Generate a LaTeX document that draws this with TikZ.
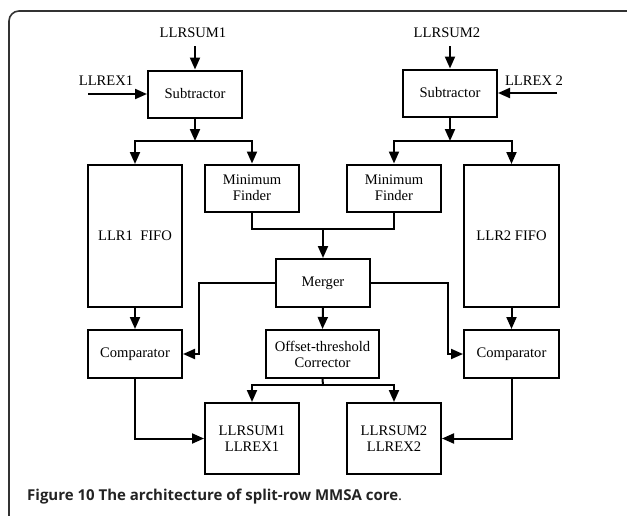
\documentclass[tikz,border=0pt]{standalone}
\usepackage{fontspec}
\setmainfont{Liberation Serif}
\newfontfamily\captionfont{Open Sans}
\usetikzlibrary{positioning,arrows.meta,calc}
\definecolor{framegray}{RGB}{50, 50, 50}
\definecolor{captiongray}{RGB}{35, 35, 35}

\begin{document}
\begin{tikzpicture}[
    x=1pt, y=-1pt,
    font=\fontsize{14.6}{16}\selectfont,
    % Block styles
    block/.style={
        draw=black,
        line width=2pt,
        align=center,
        inner sep=2pt,
        minimum width=94pt,
        minimum height=47pt
    },
    tallblock/.style={
        block,
        minimum height=142pt
    },
    outblock/.style={
        block,
        minimum height=71pt
    },
    signal/.style={
        align=center,
        inner sep=1pt
    },
    wire/.style={
        draw=black,
        line width=2pt
    },
    arrow/.style={
        wire,
        -{Triangle[length=12pt,width=10pt]}
    }
]
    \useasboundingbox (0,0) rectangle (627,515);

    % =========================================================================
    % 1. FRAME AND CAPTION
    % =========================================================================
    \draw[draw=framegray, line width=1.6pt, rounded corners=10pt]
        (9,516) -- (9,11) -- (630,11);
    \node[anchor=base west, inner sep=0pt, text=captiongray,
          font=\captionfont\fontsize{15}{18}\selectfont] (caption) at (27,500)
        {\textbf{Figure 10 The architecture of split-row MMSA core}.};

    % =========================================================================
    % 2. INPUT SIDE (Subtractors)
    % =========================================================================
    \node[signal] (sum1) at (193,33) {LLRSUM1};
    \node[signal] (sum2) at (447,33) {LLRSUM2};
    \node[signal] (ex1) at (106,81) {LLREX1};
    \node[signal] (ex2) at (534,81) {LLREX 2};
    \coordinate (sum1in) at (195,46);
    \coordinate (sum2in) at (450,46);
    \coordinate (ex1in) at (88,94);
    \coordinate (ex2in) at (557,93);

    \node[block] (sub1) at (195,94) {Subtractor};
    \node[block] (sub2) at (450,93) {Subtractor};

    \draw[arrow] (sum1in) -- (sub1.north);
    \draw[arrow] (sum2in) -- (sub2.north);
    \draw[arrow] (ex1in) -- (sub1.west);
    \draw[arrow] (ex2in) -- (sub2.east);

    % =========================================================================
    % 3. FIFOS AND MINIMUM FINDERS
    % =========================================================================
    \node[tallblock] (fifo1) at (135,236) {LLR1\enspace FIFO};
    \node[tallblock, minimum width=95pt] (fifo2) at (511.5,236) {LLR2 FIFO};
    \node[block] (minf1) at (252,188) {Minimum\\Finder};
    \node[block] (minf2) at (394,188) {Minimum\\Finder};

    \coordinate (split1) at (195,141);
    \coordinate (split2) at (450,141);
    \draw[arrow] (sub1.south) -- (split1);
    \draw[arrow] (sub2.south) -- (split2);
    \draw[arrow] (split1) -| (fifo1.north);
    \draw[arrow] (split1) -| (minf1.north);
    \draw[arrow] (split2) -| (minf2.north);
    \draw[arrow] (split2) -| (fifo2.north);

    % =========================================================================
    % 4. MERGER, COMPARATORS AND CORRECTOR
    % =========================================================================
    \node[block, minimum height=48pt] (merger) at (323,283) {Merger};
    \node[block, minimum height=48pt] (comp1) at (135,354) {Comparator};
    \node[block, minimum height=48pt, minimum width=95pt] (comp2) at (511.5,354) {Comparator};
    \node[block, minimum height=48pt, minimum width=113pt] (corr) at (322.5,354)
        {Offset-threshold\\Corrector};

    \coordinate (join) at (323,229);
    \draw[wire] (minf1.south) |- (join);
    \draw[wire] (minf2.south) |- (join);
    \draw[arrow] (join) -- (merger.north);

    \draw[arrow] (fifo1.south) -- (comp1.north);
    \draw[arrow] (fifo2.south) -- (comp2.north);
    \draw[arrow] (merger.west) -- ++(-76,0) |- (comp1.east);
    \draw[arrow] (merger.east) -- ++(77,0) |- (comp2.west);
    \draw[arrow] (merger.south) -- (corr.north);

    % =========================================================================
    % 5. OUTPUTS
    % =========================================================================
    \node[outblock] (out1) at (252,438.5) {LLRSUM1\\LLREX1};
    \node[outblock] (out2) at (394,438.5) {LLRSUM2\\LLREX2};

    \coordinate (split3) at (323,385);
    \draw[wire] (corr.south) -- (split3);
    \draw[arrow] (split3) -| (out1.north);
    \draw[arrow] (split3) -| (out2.north);

    \draw[arrow] (comp1.south) |- (out1.west);
    \draw[arrow] (comp2.south) |- (out2.east);

\end{tikzpicture}
\end{document}
